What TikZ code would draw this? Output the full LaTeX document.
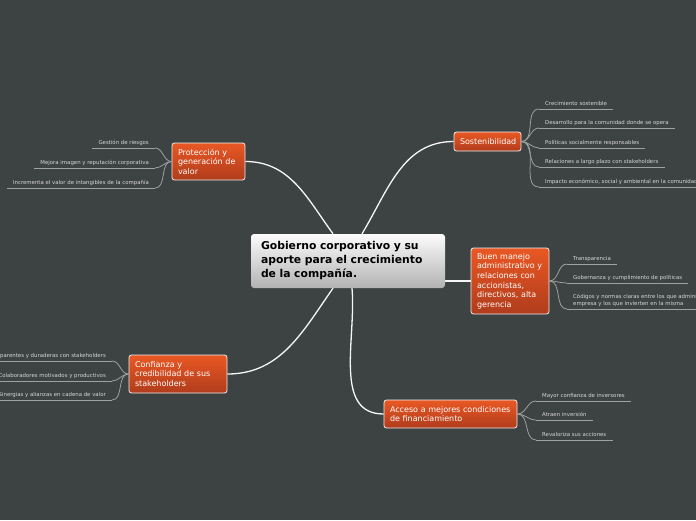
\documentclass[tikz,border=0pt]{standalone}
\usepackage{fontspec}
\setmainfont{DejaVu Sans}
\usetikzlibrary{backgrounds}

\definecolor{canvas}{RGB}{61,66,67}
\definecolor{topicA}{RGB}{233,88,36}
\definecolor{topicB}{RGB}{176,60,28}
\definecolor{rootA}{RGB}{252,252,252}
\definecolor{rootB}{RGB}{178,178,178}
\definecolor{leafline}{RGB}{158,161,161}
\definecolor{leaftext}{RGB}{214,214,214}

\begin{document}
\begin{tikzpicture}[
  x=1pt, y=-1pt,
  root/.style={rounded corners=3pt, top color=rootA, bottom color=rootB,
    text=black, align=left, inner sep=0pt, minimum width=194pt, minimum height=54pt,
    text width=174pt, font=\fontsize{10.8}{14}\bfseries\selectfont},
  topic/.style={rounded corners=2.5pt, draw=white!88!gray, line width=0.8pt,
    top color=topicA, bottom color=topicB, text=white, align=left,
    inner xsep=6pt, inner ysep=3pt, font=\fontsize{8}{9.6}\selectfont},
  leaf/.style={text=leaftext, inner xsep=6pt, inner ysep=2.3pt, text depth=1.3pt,
    font=\fontsize{5.4}{7}\selectfont},
  mainlink/.style={draw=white!93!gray, line width=1.3pt},
  leaflink/.style={draw=leafline, line width=0.8pt}
]
\useasboundingbox (0,0) rectangle (696,520);
\begin{scope}[on background layer]
\fill[canvas] (0,0) rectangle (696,520);
\end{scope}

% central topic and main branches
\node[root] (C) at (348,261) {Gobierno corporativo y su\\aporte para el crecimiento\\de la compañía.};
\node[topic, text width=61pt, minimum width=73pt, minimum height=37pt] (P) at (208.5,161.5) {Protección y\\generación de\\valor};
\node[topic, text width=55pt, minimum width=67pt, minimum height=19pt] (S) at (487.5,141.5) {Sostenibilidad};
\node[topic, text width=66pt, minimum width=78pt, minimum height=66pt] (B) at (510,281) {Buen manejo\\administrativo y\\relaciones con\\accionistas,\\directivos, alta\\gerencia};
\node[topic, text width=86pt, minimum width=98pt, minimum height=38pt] (F) at (178,374) {Confianza y\\credibilidad de sus\\stakeholders};
\node[topic, text width=121pt, minimum width=133pt, minimum height=28pt] (A) at (450.5,414) {Acceso a mejores condiciones\\de financiamiento};

% leaves
\node[leaf, anchor=south east] (p1) at (155,148) {Gestión de riesgos};
\node[leaf, anchor=south east] (p2) at (155,168) {Mejora imagen y reputación corporativa};
\node[leaf, anchor=south east] (p3) at (155,188) {Incrementa el valor de intangibles de la compañía};

\node[leaf, anchor=south west] (s1) at (539,109) {Crecimiento sostenible};
\node[leaf, anchor=south west] (s2) at (539,128) {Desarrollo para la comunidad donde se opera};
\node[leaf, anchor=south west] (s3) at (539,148) {Políticas socialmente responsables};
\node[leaf, anchor=south west] (s4) at (539,167) {Relaciones a largo plazo con stakeholders};
\node[leaf, anchor=south west] (s5) at (539,187) {Impacto económico, social y ambiental en la comunidad};

\node[leaf, anchor=south west] (b1) at (567,264) {Transparencia};
\node[leaf, anchor=south west] (b2) at (567,283) {Gobernanza y cumplimiento de políticas};
\node[leaf, anchor=south west] (b3) at (567,309) {\begin{tabular}[b]{@{}l@{}}Códigos y normas claras entre los que administran la\\empresa y los que invierten en la misma\end{tabular}};

\node[leaf, anchor=south east] (f1) at (112,361) {Relaciones transparentes y duraderas con stakeholders};
\node[leaf, anchor=south east] (f2) at (112,381) {Colaboradores motivados y productivos};
\node[leaf, anchor=south east] (f3) at (112,400) {Sinergias y alianzas en cadena de valor};

\node[leaf, anchor=south west] (a1) at (536,401) {Mayor confianza de inversores};
\node[leaf, anchor=south west] (a2) at (536,420) {Atraen inversión};
\node[leaf, anchor=south west] (a3) at (536,440) {Revaloriza sus acciones};

\begin{scope}[on background layer]
\draw[mainlink] (P.east) to[out=0,in=126] ([xshift=-15pt]C.north);
\draw[mainlink] (S.west) to[out=180,in=59] ([xshift=14pt]C.north);
\draw[mainlink] (C.east |- B.west) -- (B.west);
\draw[mainlink] (F.east) to[out=0,in=235] ([xshift=-15pt]C.south);
\draw[mainlink] (A.west) to[out=180,in=275] ([xshift=4pt]C.south);
\end{scope}

\foreach \n in {p1,p2,p3,s1,s2,s3,s4,s5,b1,b2,b3,f1,f2,f3,a1,a2,a3}
  \draw[leaflink] (\n.south west) -- (\n.south east);
\foreach \n in {p1,p2,p3}
  \draw[leaflink] (P.west) to[out=180,in=0] (\n.south east);
\foreach \n in {f1,f2,f3}
  \draw[leaflink] (F.west) to[out=180,in=0] (\n.south east);
\foreach \n in {s1,s2,s3,s4,s5}
  \draw[leaflink] (S.east) to[out=0,in=180] (\n.south west);
\foreach \n in {b1,b2,b3}
  \draw[leaflink] (B.east) to[out=0,in=180] (\n.south west);
\foreach \n in {a1,a2,a3}
  \draw[leaflink] (A.east) to[out=0,in=180] (\n.south west);
\end{tikzpicture}
\end{document}
